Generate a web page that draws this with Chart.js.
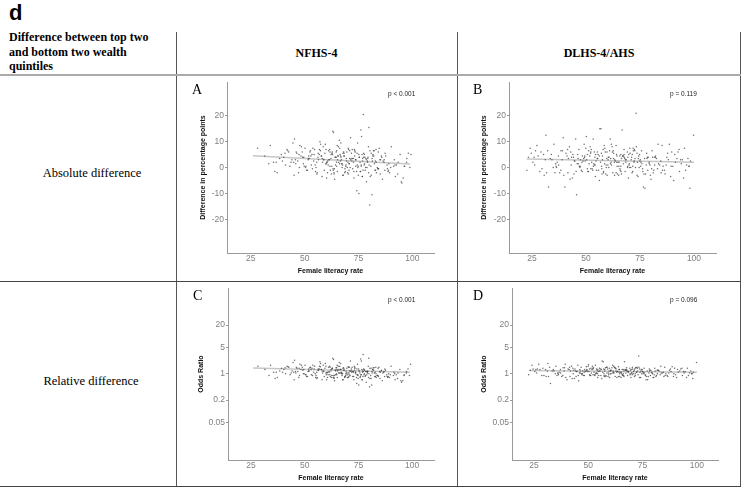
<!DOCTYPE html>
<html>
<head>
<meta charset="utf-8">
<script src="https://cdn.jsdelivr.net/npm/chart.js@4"></script>
<style>
  html, body { margin: 0; padding: 0; background: #fff; }
  body { width: 742px; height: 487px; position: relative; overflow: hidden; }
  .t { position: absolute; white-space: nowrap; color: #000; }
  .serif { font-family: "Liberation Serif", "Times New Roman", serif; }
  .sans { font-family: "Liberation Sans", Arial, sans-serif; }
  .ln { position: absolute; background: #555; }
  canvas { position: absolute; }
</style>
</head>
<body>
<div class="t sans" style="left:9px;top:2px;font-size:22px;font-weight:bold;line-height:22px;">d</div>
<div class="t serif" style="left:9px;top:30px;font-size:12px;font-weight:bold;line-height:14.7px;">Difference between top two<br>and bottom two wealth<br>quintiles</div>
<div class="t serif" style="left:176px;width:281px;top:46px;text-align:center;font-size:12px;font-weight:bold;line-height:14px;">NFHS-4</div>
<div class="t serif" style="left:457px;width:284px;top:46px;text-align:center;font-size:12px;font-weight:bold;line-height:14px;">DLHS-4/AHS</div>
<div class="t serif" style="left:0;width:184px;top:166px;text-align:center;font-size:12.5px;line-height:14px;">Absolute difference</div>
<div class="t serif" style="left:0;width:182px;top:374px;text-align:center;font-size:12.5px;line-height:14px;">Relative difference</div>

<div class="ln" style="left:176px;top:32px;width:1px;height:455px;"></div>
<div class="ln" style="left:457px;top:32px;width:1px;height:455px;"></div>
<div class="ln" style="left:740px;top:32px;width:1px;height:455px;"></div>
<div class="ln" style="left:0;top:74px;width:741px;height:2px;background:#aaa;"></div>
<div class="ln" style="left:0;top:281px;width:741px;height:1px;background:#444;"></div>
<div class="ln" style="left:0;top:486px;width:741px;height:1px;background:#444;"></div>

<canvas id="chartA" width="279" height="204" style="left:177px;top:76px;"></canvas>
<canvas id="chartB" width="282" height="204" style="left:458px;top:76px;"></canvas>
<canvas id="chartC" width="279" height="204" style="left:177px;top:282px;"></canvas>
<canvas id="chartD" width="282" height="204" style="left:458px;top:282px;"></canvas>

<div class="t serif" style="left:192px;top:82.5px;font-size:14px;line-height:14px;">A</div>
<div class="t serif" style="left:473px;top:82.5px;font-size:14px;line-height:14px;">B</div>
<div class="t serif" style="left:193px;top:288.5px;font-size:14px;line-height:14px;">C</div>
<div class="t serif" style="left:473px;top:288.5px;font-size:14px;line-height:14px;">D</div>
<div class="t sans" style="left:388px;top:89.5px;font-size:6.5px;line-height:7px;color:#222;">p &lt; 0.001</div>
<div class="t sans" style="left:670px;top:89.5px;font-size:6.5px;line-height:7px;color:#222;">p = 0.119</div>
<div class="t sans" style="left:388px;top:295.5px;font-size:6.5px;line-height:7px;color:#222;">p &lt; 0.001</div>
<div class="t sans" style="left:670px;top:295.5px;font-size:6.5px;line-height:7px;color:#222;">p = 0.096</div>

<script>
const xTicks = [25, 50, 75, 100];
const diffTicks = [-20, -10, 0, 10, 20];
const orTicks = [0.05, 0.2, 1, 5, 20];

// female literacy rate per district, NFHS-4 (panels A and C)
const xNFHS = [
  28.2, 31.5, 34.1, 35.6, 37.3, 38.4, 39.2, 40.3, 41.1, 42.6, 33.4, 36.2, 39.7, 41.8, 43.2, 44.1, 45.3, 46.4, 47.2, 48.5,
  44.6, 45.7, 46.1, 47.6, 48.3, 49.4, 50.2, 51.3, 52.1, 53.4, 43.7, 45.1, 47.8, 49.1, 50.6, 52.7, 54.2, 55.1, 56.3, 57.4,
  51.6, 53.1, 54.6, 55.7, 56.2, 57.1, 58.3, 59.4, 60.2, 61.3, 52.4, 55.3, 57.7, 58.6, 59.1, 60.7, 61.6, 62.2, 63.1, 64.3,
  56.8, 58.1, 60.4, 61.1, 62.6, 63.4, 64.1, 65.2, 66.3, 67.1, 59.6, 60.1, 62.3, 63.7, 64.6, 65.8, 66.1, 67.4, 68.2, 69.3,
  60.9, 62.8, 63.3, 64.4, 65.1, 66.6, 67.7, 68.3, 69.1, 70.4, 61.4, 63.9, 65.4, 66.8, 67.2, 68.7, 69.6, 70.1, 71.3, 72.2,
  64.8, 66.4, 68.6, 70.2, 71.1, 72.6, 73.3, 74.1, 75.4, 76.2, 65.6, 67.9, 69.4, 71.7, 72.3, 73.8, 74.6, 75.2, 76.1, 77.3,
  68.4, 70.7, 72.9, 73.4, 74.2, 75.7, 76.6, 77.2, 78.1, 79.3, 70.3, 72.1, 74.8, 75.3, 76.4, 77.6, 78.7, 79.1, 80.3, 81.2,
  73.6, 75.9, 77.4, 78.3, 79.6, 80.2, 81.4, 82.1, 83.3, 84.2, 74.4, 76.8, 78.4, 79.8, 80.7, 81.7, 82.6, 83.2, 84.6, 85.1,
  77.8, 79.4, 80.9, 82.3, 83.7, 85.2, 86.1, 87.3, 88.2, 89.4, 81.3, 83.1, 84.3, 86.4, 87.6, 88.7, 90.2, 91.3, 92.1, 93.4,
  85.6, 87.2, 89.1, 91.6, 93.2, 94.3, 95.1, 96.2, 97.3, 98.1, 88.4, 92.6, 95.7, 97.4, 98.8, 99.3, 56.4, 63.6, 70.6, 76.7,
  46.8, 48.9, 50.9, 52.9, 54.9, 56.9, 58.9, 60.6, 62.9, 64.9, 66.9, 68.9, 70.9, 72.7, 74.9, 76.9, 78.9, 80.9, 82.9, 84.9,
  47.4, 49.8, 51.8, 53.8, 55.8, 57.8, 59.8, 61.8, 63.8, 65.3, 67.8, 69.8, 71.9, 73.1, 75.8, 77.9, 79.9, 81.9, 83.9, 86.8,
  42.2, 44.9, 50.4, 54.4, 58.8, 61.9, 64.6, 66.2, 68.1, 69.9, 71.4, 73.7, 75.1, 77.1, 79.2, 81.6, 84.1, 86.9, 89.9, 94.8,
  36.8, 40.9, 49.6, 53.6, 57.3, 60.3, 62.4, 65.6, 67.6, 70.8, 72.8, 74.3, 76.3, 78.6, 80.4, 82.8, 85.8, 88.9, 91.9, 96.4,
  45.9, 51.9, 55.6, 59.9, 63.2, 66.7, 69.2, 71.6, 74.7, 77.7, 79.7, 82.4, 58.2, 61.7, 64.9, 67.3, 70.6, 73.2, 76.9, 62.7
];

// female literacy rate per district, DLHS-4/AHS (panels B and D)
const xDLHS = [
  22.6, 24.1, 25.4, 27.2, 28.6, 30.3, 31.4, 32.6, 34.2, 35.1, 23.3, 26.2, 29.1, 31.7, 33.4, 36.1, 37.2, 38.3, 39.4, 40.2,
  36.6, 38.4, 39.7, 41.2, 42.3, 43.1, 44.4, 45.2, 46.3, 47.1, 40.7, 42.6, 44.8, 46.7, 48.2, 49.3, 50.1, 51.4, 52.2, 53.3,
  45.6, 47.4, 49.1, 50.6, 51.7, 52.4, 53.6, 54.3, 55.6, 56.4, 48.6, 51.2, 53.1, 55.2, 56.9, 57.2, 58.4, 59.1, 60.3, 61.2,
  52.1, 54.2, 56.2, 57.6, 58.7, 59.4, 60.6, 61.7, 62.4, 63.6, 55.2, 57.3, 59.6, 61.3, 62.1, 63.2, 64.1, 65.3, 66.7, 67.2,
  58.1, 60.2, 62.6, 64.4, 65.6, 66.4, 67.6, 68.4, 69.6, 70.4, 61.8, 63.9, 65.8, 67.9, 69.1, 70.2, 71.1, 72.3, 73.2, 74.1,
  64.2, 66.1, 68.1, 70.3, 71.6, 72.7, 73.6, 74.4, 75.7, 76.6, 67.3, 69.4, 71.3, 73.3, 75.1, 76.2, 77.3, 78.1, 79.2, 80.1,
  70.9, 72.9, 74.8, 77.6, 78.4, 79.6, 80.6, 81.4, 82.6, 83.4, 45.9, 48.3, 50.8, 53.8, 56.7, 59.8, 62.8, 65.2, 68.3, 71.8,
  37.3, 41.8, 43.6, 46.1, 49.6, 52.8, 54.1, 57.9, 60.1, 63.3, 66.2, 69.8, 72.2, 75.3, 78.2, 81.1, 82.2, 84.1, 85.2, 86.3,
  84.6, 86.6, 87.4, 88.6, 89.4, 90.6, 91.4, 92.6, 93.3, 94.6, 87.1, 89.2, 91.1, 93.1, 95.2, 96.1, 97.2, 97.6, 98.1, 99.8,
  33.9, 35.6, 44.2, 47.3, 50.3, 55.8, 58.9, 64.8, 67.1, 70.7, 74.2, 76.8, 79.3, 80.8, 83.1, 95.6, 96.6, 98.4, 30.6, 26.6,
  25.9, 29.6, 32.2, 35.9, 38.9, 41.6, 43.9, 46.9, 49.9, 52.6, 54.8, 57.6, 59.3, 62.2, 64.5, 66.4, 69.2, 71.4, 73.8, 76.3,
  78.8, 81.8, 84.8, 87.8, 90.2, 93.8, 42.9, 45.4, 48.9, 51.9, 53.4, 56.1, 58.1, 60.9, 63.1, 65.7, 67.6, 70.1, 72.4, 74.6,
  77.1, 79.8, 83.6, 27.8, 34.8, 39.1, 44.6, 47.8, 50.6, 53.9, 55.4, 57.4, 59.7, 61.6, 64.3, 66.1, 68.6, 71.6, 73.6, 75.9,
  78.6, 82.1, 85.7, 89.7, 31.1, 37.8, 41.4, 46.4, 49.4, 52.2, 54.6, 57.1, 60.5, 62.7, 65.1, 67.7, 69.9, 72.6, 75.4, 80.4,
  88.1, 94.1, 24.6, 36.3, 43.3, 48.1, 51.1, 54.4, 58.6, 61.4, 63.9, 66.9, 69.3, 71.9, 74.9, 77.9, 81.7, 85.4, 92.1, 97.8
];

// A: absolute difference (percentage points), NFHS-4
const diffNFHS = [
  7.5, 4.5, 8.5, 2.0, -2.0, 3.5, 5.0, 4.0, 1.0, 6.0, 1.5, -1.5, 2.5, 7.0, 0.5, 3.0, 11.0, 5.5, -2.0, 8.0,
  9.5, 3.0, 6.0, 0.0, 4.5, 1.5, 7.5, -1.0, 3.5, 5.0, 2.0, -3.0, 8.5, 4.0, 0.5, 6.5, 2.5, -1.5, 5.5, 9.0,
  3.0, 1.0, 7.0, -2.5, 4.0, 10.0, 2.0, 5.5, -4.0, 3.0, 6.0, 0.0, 4.5, 8.0, -1.0, 2.5, 7.0, 3.5, 14.0, 1.0,
  5.0, -3.5, 2.0, 6.5, 0.5, 13.5, 4.0, -1.5, 7.5, 3.0, 9.0, 1.5, 5.0, -2.5, 6.0, 2.0, 10.5, 0.0, 4.5, 3.5,
  1.0, 6.0, -1.0, 4.0, 8.5, 2.5, -3.0, 5.5, 0.5, 7.0, 3.0, -4.5, 4.5, 9.5, 1.5, -0.5, 6.0, 2.0, 11.5, 3.5,
  2.0, 5.0, -2.0, 7.5, 0.0, 3.5, 6.5, -1.5, 4.0, 1.0, 8.0, -3.0, 2.5, 5.5, -0.5, 3.0, 9.5, -10.0, 14.5, 4.0,
  4.5, 1.5, -4.0, 6.0, -9.0, 2.0, 5.0, 20.5, -1.0, 3.5, -2.5, 7.0, 0.5, 4.0, 12.0, 1.0, -5.5, 2.5, 6.5, -10.5,
  3.0, -1.5, 5.5, 0.0, 8.0, -14.5, 2.5, 4.5, -2.0, 6.0, 1.0, -3.5, 3.5, 15.5, 0.5, 5.0, -1.0, 2.0, 7.5, -2.5,
  1.5, 4.0, -3.0, 6.5, 0.0, 3.0, -4.5, 5.5, 1.0, -2.0, 3.5, 7.0, -0.5, 2.5, 4.5, -1.5, 8.0, 0.5, -3.5, 2.0,
  4.5, -1.0, 1.5, 3.0, -2.5, 5.0, -6.0, 0.5, 2.0, 5.5, -0.5, 1.0, -4.0, 3.5, 0.0, 5.0, 3.0, -2.0, 1.5, -3.5,
  2.5, 6.0, -1.0, 4.5, 1.0, 7.0, 3.0, -2.0, 5.0, 0.5, 4.0, -1.5, 6.5, 2.0, -3.0, 3.5, 0.0, 5.5, -1.0, 3.0,
  5.0, 0.5, 3.5, 7.5, -2.0, 4.5, 1.5, 6.0, -0.5, 3.0, 5.5, 0.0, 2.5, 7.0, -1.5, 4.0, 1.0, 6.5, -0.5, 2.0,
  6.5, 2.0, 0.0, 5.0, 3.0, -1.0, 4.0, 1.5, 6.0, -2.0, 3.0, 0.5, 5.0, -1.0, 2.0, 4.5, -0.5, 3.0, 0.0, -5.5,
  2.0, 5.5, 4.0, -0.5, 6.5, 2.0, -2.5, 4.5, 1.0, 3.5, -1.5, 5.5, 0.5, 3.0, -3.5, 2.5, 4.0, -1.0, 1.0, 0.5,
  1.5, 4.5, 2.0, 7.0, -0.5, 4.5, 1.0, 3.5, 0.0, 5.0, -2.0, 1.5, 3.5, 0.5, 6.5, 1.5, -1.0, 4.5, 2.5, 5.5
];

// B: absolute difference (percentage points), DLHS-4/AHS
const diffDLHS = [
  -1.0, 7.5, 2.0, 8.5, -1.5, 5.0, 12.5, -7.5, 3.0, 9.0, 4.0, 1.0, 6.0, -2.0, 3.5, 0.5, 4.5, -1.0, 11.5, -7.5,
  2.0, 6.5, -3.0, 4.5, 8.0, 1.0, -2.5, 11.0, 3.5, 0.0, 5.5, -4.5, 2.5, 7.0, -1.5, 4.0, 12.0, 1.5, 6.0, 11.0,
  -10.5, 3.0, 9.0, -0.5, 4.5, 7.0, 1.5, -3.5, 5.0, 15.0, 2.5, 6.5, -1.0, 3.5, 15.0, 0.5, 8.5, -2.5, 4.0, 11.0,
  5.5, 1.0, -5.0, 3.0, 7.5, 0.0, 4.0, 9.0, -2.0, 2.5, 6.0, -0.5, 3.5, 1.5, 8.0, -3.0, 5.0, 2.0, 14.5, 4.5,
  -1.5, 3.0, 6.5, 0.5, 4.5, -2.5, 7.0, 2.0, -4.0, 5.5, 1.0, 8.5, -1.0, 3.5, 6.0, 0.0, 4.0, 2.5, 21.0, -3.5,
  2.0, 5.0, -1.5, 7.5, 0.5, 3.5, -3.0, 4.5, 6.5, -7.5, 1.5, 4.0, -2.0, 8.0, 3.0, -0.5, -8.0, 5.5, 2.0, -4.5,
  3.0, 0.0, 5.0, -2.5, 4.0, 1.0, 6.5, -1.0, 3.5, 9.0, 1.5, 4.5, -1.5, 6.0, 2.0, -3.0, 5.5, 0.5, 3.0, 7.5,
  1.0, 3.5, -4.0, 5.0, 2.5, -0.5, 4.0, 7.0, 1.0, 3.0, -1.5, 5.0, 2.0, 0.5, 3.5, -2.0, 4.5, 1.0, 8.5, -1.0,
  2.5, -2.5, 4.0, 9.0, 0.5, -5.0, 2.0, 6.0, -1.5, 3.0, 1.0, -3.5, 5.0, 7.0, -4.0, -1.0, 3.5, 0.5, -8.0, 12.5,
  5.0, -2.0, 4.0, 0.5, 3.0, -1.0, 6.0, 2.0, 4.5, 0.0, 3.5, -2.5, 1.5, 4.0, -0.5, 7.5, 1.0, 2.5, -3.0, 6.5,
  4.0, -0.5, 6.5, 1.5, 3.0, -2.0, 5.0, 0.5, 7.5, 2.0, -1.0, 4.5, 1.0, 6.0, -2.5, 3.5, 0.0, 5.0, 2.0, -1.5,
  4.0, 1.0, -2.0, 5.5, 0.5, 3.0, 6.0, -1.5, 3.5, 8.0, 0.5, 4.5, -2.0, 6.5, 2.0, -0.5, 5.0, 1.5, 7.0, 0.0,
  3.5, -3.0, 1.5, 4.5, 0.0, 6.5, 2.5, -1.0, 5.0, 1.0, 3.5, -2.5, 6.0, 2.0, 4.5, 0.5, 3.0, -1.5, 5.5, 1.5,
  -1.0, 4.0, 0.5, 6.0, 3.0, -2.0, 7.0, 1.5, 4.5, -0.5, 2.5, 5.5, 0.0, 3.5, -3.0, 4.0, 1.0, 6.5, 2.0, -0.5,
  3.0, 1.5, 5.5, 0.0, 4.0, 2.0, -1.5, 5.0, 1.5, 3.5, -2.0, 4.5, 0.5, 6.5, 2.5, 1.0, 4.0, -1.0, 3.5, 0.5
];

// C: odds ratio, NFHS-4
const orNFHS = [
  1.6, 1.3, 1.7, 1.1, 0.8, 1.2, 1.4, 1.3, 1.0, 1.5, 0.9, 0.75, 1.1, 1.6, 0.95, 1.2, 2.3, 1.4, 0.8, 1.7,
  2.0, 1.15, 1.5, 0.9, 1.3, 1.0, 1.7, 0.85, 1.2, 1.4, 1.05, 0.7, 1.8, 1.25, 0.95, 1.5, 1.1, 0.8, 1.35, 1.9,
  1.15, 0.95, 1.6, 0.75, 1.25, 2.1, 1.05, 1.4, 0.7, 1.15, 1.45, 0.9, 1.3, 1.7, 0.85, 1.1, 1.6, 1.2, 2.6, 0.95,
  1.35, 0.7, 1.05, 1.5, 0.9, 2.4, 1.25, 0.8, 1.6, 1.1, 1.9, 0.95, 1.3, 0.75, 1.45, 1.05, 2.0, 0.9, 1.25, 1.15,
  0.95, 1.4, 0.8, 1.2, 1.7, 1.05, 0.7, 1.35, 0.9, 1.5, 1.1, 0.65, 1.25, 1.9, 1.0, 0.85, 1.4, 1.05, 2.2, 1.15,
  1.0, 1.3, 0.8, 1.55, 0.9, 1.15, 1.45, 0.8, 1.2, 0.95, 1.6, 0.7, 1.05, 1.35, 0.85, 1.1, 1.8, 0.5, 2.5, 1.15,
  1.25, 0.95, 0.7, 1.4, 0.55, 1.05, 1.3, 3.3, 0.85, 1.15, 0.8, 1.5, 0.9, 1.2, 2.2, 0.95, 0.6, 1.05, 1.4, 0.5,
  1.1, 0.85, 1.35, 0.9, 1.6, 0.45, 1.05, 1.25, 0.8, 1.4, 0.95, 0.7, 1.15, 2.6, 0.9, 1.3, 0.85, 1.0, 1.5, 0.75,
  1.0, 1.2, 0.75, 1.45, 0.9, 1.1, 0.65, 1.35, 0.95, 0.8, 1.15, 1.5, 0.85, 1.05, 1.25, 0.8, 1.6, 0.9, 0.7, 1.05,
  1.2, 0.85, 1.0, 1.1, 0.75, 1.3, 0.6, 0.9, 1.05, 1.35, 0.85, 0.95, 0.65, 1.15, 0.9, 1.8, 1.25, 0.8, 1.05, 0.7,
  1.15, 1.5, 0.85, 1.3, 1.0, 1.6, 1.2, 0.8, 1.4, 0.95, 1.3, 0.85, 1.5, 1.1, 0.75, 1.2, 0.95, 1.4, 0.85, 1.15,
  1.4, 1.0, 1.2, 1.7, 0.8, 1.3, 1.05, 1.5, 0.9, 1.2, 1.4, 0.95, 1.1, 1.6, 0.8, 1.25, 1.0, 1.45, 0.9, 1.1,
  1.55, 1.1, 0.95, 1.35, 1.15, 0.85, 1.3, 1.05, 1.45, 0.8, 1.2, 1.0, 1.35, 0.85, 1.1, 1.3, 0.9, 1.15, 0.95, 0.65,
  1.1, 1.45, 1.3, 0.9, 1.55, 1.1, 0.8, 1.3, 1.0, 1.2, 0.85, 1.35, 0.95, 1.15, 0.75, 1.1, 1.25, 0.85, 1.0, 0.95,
  1.05, 1.35, 1.1, 1.6, 0.9, 1.3, 1.0, 1.2, 0.95, 1.3, 0.8, 1.05, 1.2, 0.95, 1.45, 1.05, 0.85, 1.25, 1.1, 1.35
];

// D: odds ratio, DLHS-4/AHS
const orDLHS = [
  0.95, 1.7, 1.15, 1.8, 0.9, 1.3, 1.9, 0.55, 1.2, 1.6, 1.25, 1.05, 1.4, 0.85, 1.2, 1.0, 1.3, 0.9, 1.8, 0.7,
  1.1, 1.45, 0.8, 1.3, 1.6, 1.0, 0.85, 1.7, 1.2, 0.95, 1.35, 0.75, 1.15, 1.5, 0.9, 1.25, 1.75, 1.05, 1.4, 1.7,
  0.65, 1.2, 1.55, 0.95, 1.3, 1.45, 1.05, 0.8, 1.35, 2.2, 1.15, 1.4, 0.9, 1.2, 2.1, 1.0, 1.5, 0.85, 1.25, 1.7,
  1.35, 1.0, 0.75, 1.2, 1.5, 0.95, 1.25, 1.6, 0.85, 1.15, 1.4, 0.9, 1.2, 1.05, 1.5, 0.8, 1.3, 1.1, 2.1, 1.25,
  0.9, 1.2, 1.4, 1.0, 1.3, 0.85, 1.45, 1.1, 0.8, 1.35, 1.05, 1.55, 0.9, 1.2, 1.4, 0.95, 1.25, 1.1, 3.0, 0.8,
  1.1, 1.3, 0.9, 1.5, 1.0, 1.2, 0.8, 1.3, 1.4, 0.7, 1.05, 1.25, 0.85, 1.5, 1.15, 0.95, 0.7, 1.35, 1.1, 0.8,
  1.15, 0.95, 1.3, 0.85, 1.25, 1.0, 1.4, 0.9, 1.2, 1.6, 1.05, 1.3, 0.9, 1.35, 1.1, 0.8, 1.35, 1.0, 1.15, 1.45,
  1.05, 1.2, 0.75, 1.3, 1.15, 0.95, 1.25, 1.45, 1.0, 1.15, 0.9, 1.3, 1.1, 1.0, 1.2, 0.85, 1.25, 1.05, 1.5, 0.9,
  1.1, 0.85, 1.25, 1.55, 1.0, 0.8, 1.1, 1.35, 0.9, 1.15, 1.05, 0.85, 1.3, 1.4, 0.8, 0.9, 1.2, 1.0, 0.75, 2.0,
  1.3, 0.9, 1.2, 1.0, 1.15, 0.9, 1.35, 1.1, 1.25, 1.0, 1.2, 0.85, 1.05, 1.2, 0.95, 1.4, 1.05, 1.1, 0.85, 1.35,
  1.3, 0.9, 1.5, 1.05, 1.2, 0.85, 1.35, 1.0, 1.6, 1.1, 0.9, 1.3, 1.05, 1.45, 0.85, 1.2, 0.95, 1.35, 1.1, 0.9,
  1.25, 1.0, 0.85, 1.35, 0.95, 1.15, 1.4, 0.9, 1.2, 1.6, 1.0, 1.3, 0.85, 1.45, 1.1, 0.95, 1.3, 1.05, 1.5, 1.0,
  1.2, 0.8, 1.05, 1.3, 1.0, 1.45, 1.15, 0.9, 1.35, 1.05, 1.2, 0.85, 1.4, 1.1, 1.3, 1.0, 1.15, 0.9, 1.35, 1.05,
  0.9, 1.25, 1.0, 1.4, 1.2, 0.85, 1.5, 1.05, 1.3, 0.95, 1.15, 1.35, 1.0, 1.2, 0.8, 1.25, 1.05, 1.4, 1.1, 0.95,
  1.15, 1.05, 1.35, 0.95, 1.25, 1.1, 0.9, 1.3, 1.05, 1.2, 0.85, 1.3, 1.0, 1.45, 1.15, 1.05, 1.25, 0.9, 1.2, 1.0
];

// fitted regression lines: [x, y] at both ends
const fitA = [[26, 4.6], [99, 1.4]];
const fitB = [[22.5, 3.3], [100, 2.0]];
const fitC = [[26, 1.44], [99, 1.1]];
const fitD = [[22.7, 1.22], [100, 1.1]];

const sans = "'Liberation Sans', Arial, sans-serif";

function makePanel(id, xs, ys, fit, opt) {
  const points = xs.map(function (x, i) { return { x: x, y: ys[i] }; });
  const line = fit.map(function (p) { return { x: p[0], y: p[1] }; });

  new Chart(document.getElementById(id), {
    type: "scatter",
    data: {
      datasets: [
        {
          data: points,
          pointRadius: 0.75,
          pointBackgroundColor: "rgba(60, 60, 60, 0.75)",
          pointBorderWidth: 0,
        },
        {
          data: line,
          showLine: true,
          borderColor: "#c6c6c6",
          borderWidth: 1.5,
          pointRadius: 0,
        },
      ],
    },
    options: {
      responsive: false,
      animation: false,
      events: [],
      layout: { padding: { top: 5, right: opt.padRight, left: 0, bottom: 0 } },
      plugins: { legend: { display: false }, tooltip: { enabled: false } },
      scales: {
        x: {
          type: "linear",
          min: opt.xMin,
          max: opt.xMax,
          grid: { display: false, drawTicks: false },
          border: { color: "#9a9a9a", width: 1 },
          ticks: {
            color: "#808080",
            padding: 1,
            autoSkip: false,
            maxRotation: 0,
            font: { family: sans, size: 8.5 },
          },
          title: {
            display: true,
            text: "Female literacy rate",
            color: "#111",
            padding: { top: 0, bottom: opt.xTitlePad },
            font: { family: sans, size: 7, weight: "bold" },
          },
          afterBuildTicks: function (s) { s.ticks = xTicks.map(function (v) { return { value: v }; }); },
          afterFit: function (s) { s.height = opt.xAxisH; },
        },
        y: {
          type: opt.yType,
          min: opt.yMin,
          max: opt.yMax,
          grid: { display: true, drawOnChartArea: false, drawTicks: true, tickLength: 2, color: "#9a9a9a" },
          border: { color: "#9a9a9a", width: 1 },
          ticks: {
            color: "#808080",
            padding: 1,
            autoSkip: false,
            font: { family: sans, size: 8.5 },
            callback: function (v) { return String(v); },
          },
          title: {
            display: true,
            text: opt.yTitle,
            color: "#111",
            padding: { top: opt.yTitlePad, bottom: 0 },
            font: { family: sans, size: 7, weight: "bold" },
          },
          afterBuildTicks: function (s) { s.ticks = opt.yTicks.map(function (v) { return { value: v }; }); },
          afterFit: function (s) { s.width = opt.yAxisW; },
        },
      },
    },
  });
}

makePanel("chartA", xNFHS, diffNFHS, fitA, {
  xMin: 14, xMax: 110, yType: "linear", yMin: -33, yMax: 33, yTicks: diffTicks,
  yTitle: "Difference in percentage points", yAxisW: 50, xAxisH: 27, padRight: 22,
  yTitlePad: 21.8, xTitlePad: 4.8,
});
makePanel("chartB", xDLHS, diffDLHS, fitB, {
  xMin: 14.3, xMax: 110.2, yType: "linear", yMin: -33, yMax: 33, yTicks: diffTicks,
  yTitle: "Difference in percentage points", yAxisW: 51, xAxisH: 27, padRight: 24,
  yTitlePad: 21.8, xTitlePad: 4.8,
});
makePanel("chartC", xNFHS, orNFHS, fitC, {
  xMin: 14.3, xMax: 110.2, yType: "logarithmic", yMin: 0.005, yMax: 195, yTicks: orTicks,
  yTitle: "Odds Ratio", yAxisW: 51, xAxisH: 26, padRight: 22,
  yTitlePad: 19.8, xTitlePad: 3.8,
});
makePanel("chartD", xDLHS, orDLHS, fitD, {
  xMin: 14.9, xMax: 109.7, yType: "logarithmic", yMin: 0.005, yMax: 195, yTicks: orTicks,
  yTitle: "Odds Ratio", yAxisW: 54, xAxisH: 26, padRight: 22,
  yTitlePad: 21.8, xTitlePad: 3.8,
});
</script>
</body>
</html>
